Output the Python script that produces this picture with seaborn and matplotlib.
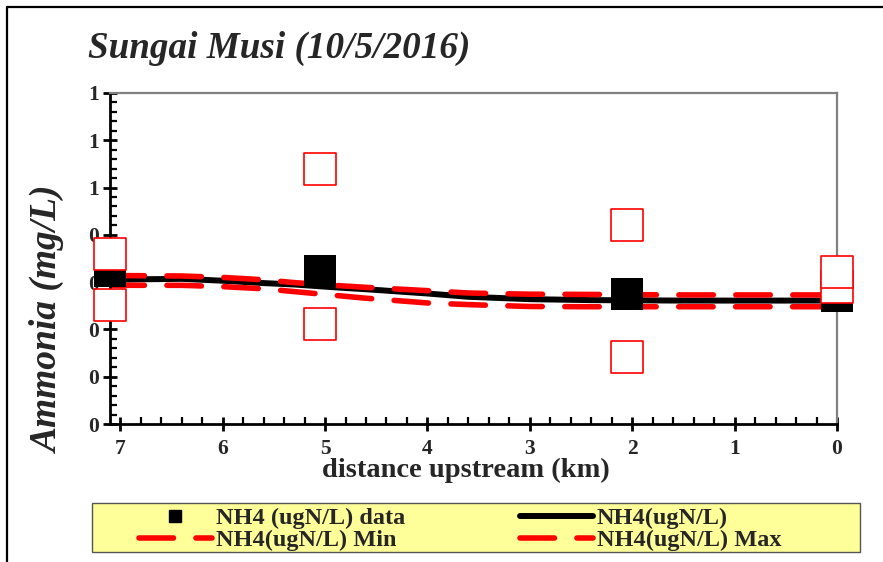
import matplotlib
matplotlib.use("Agg")
import matplotlib.pyplot as plt
from matplotlib.lines import Line2D
from matplotlib.patches import Rectangle
from matplotlib.ticker import MultipleLocator, FixedLocator, FixedFormatter
import seaborn as sns

# Sampling stations (km upstream) and measured ammonia (mg/L)
station_km = [7.1, 5.05, 2.05, 0.0]
nh4_data = [0.323, 0.324, 0.275, 0.270]
nh4_data_min = [0.252, 0.211, 0.141, 0.290]
nh4_data_max = [0.360, 0.539, 0.420, 0.321]

# Modelled profile along the river (km upstream)
model_km = [7.1, 6.8, 6.4, 6.0, 5.6, 5.3, 4.9, 4.6, 4.0, 3.6, 3.0, 2.4, 1.5, 0.0]
nh4_model = [0.305, 0.306, 0.307, 0.303, 0.298, 0.295, 0.289, 0.285, 0.276,
             0.269, 0.264, 0.262, 0.261, 0.261]
nh4_model_max = [0.314, 0.3136, 0.313, 0.310, 0.305, 0.299, 0.293, 0.289, 0.282,
                 0.277, 0.2745, 0.274, 0.273, 0.273]
nh4_model_min = [0.2935, 0.2933, 0.2933, 0.2905, 0.286, 0.280, 0.272, 0.266, 0.256,
                 0.2525, 0.2485, 0.248, 0.248, 0.248]

# Axis ticks
x_ticks = [7, 6, 5, 4, 3, 2, 1, 0]
y_ticks = [0.0, 0.1, 0.2, 0.3, 0.4, 0.5, 0.6, 0.7]
y_tick_labels = ["0", "0", "0", "0", "0", "1", "1", "1"]

sns.set_style("white")
plt.rcParams["font.family"] = ["Liberation Serif", "DejaVu Serif"]
plt.rcParams["font.weight"] = "bold"

W, H = 883, 562
fig = plt.figure(figsize=(W / 100, H / 100), dpi=100)
ax = fig.add_axes([110 / W, 1 - 424 / H, (837 - 110) / W, (424 - 93) / H])

# Model curves
sns.lineplot(x=model_km, y=nh4_model, ax=ax, color="black", linewidth=4.3,
             sort=False, estimator=None, zorder=2)
ax.lines[-1].set_solid_capstyle("round")
for series in (nh4_model_min, nh4_model_max):
    sns.lineplot(x=model_km, y=series, ax=ax, color="red", linewidth=4.0,
                 sort=False, estimator=None, zorder=2.5)
    ln = ax.lines[-1]
    ln.set_dashes((6.2, 4.05))
    ln.set_dash_capstyle("round")

# Measured values and their ranges
sns.scatterplot(x=station_km, y=nh4_data, ax=ax, marker="s", s=560,
                color="black", edgecolor="black", linewidth=0, zorder=3,
                clip_on=False)
sns.scatterplot(x=station_km, y=nh4_data_min, ax=ax, marker="s", s=530,
                color="white", edgecolor="red", linewidth=1.2, zorder=4,
                clip_on=False)
sns.scatterplot(x=station_km, y=nh4_data_max, ax=ax, marker="s", s=530,
                color="white", edgecolor="red", linewidth=1.2, zorder=5,
                clip_on=False)

ax.set_xlim(7.1, 0)
ax.set_ylim(0, 0.7)
ax.xaxis.set_major_locator(FixedLocator(x_ticks))
ax.xaxis.set_minor_locator(MultipleLocator(0.2))
ax.yaxis.set_major_locator(FixedLocator(y_ticks))
ax.yaxis.set_major_formatter(FixedFormatter(y_tick_labels))
ax.yaxis.set_minor_locator(MultipleLocator(0.02))

ax.tick_params(which="major", direction="inout", length=10, width=2,
               color="black", labelsize=15.5, pad=3)
ax.tick_params(axis="x", which="major", pad=6)
ax.tick_params(which="minor", direction="in", length=5, width=1.6,
               color="black")
ax.tick_params(axis="x", which="both", bottom=True, top=False)
ax.tick_params(axis="y", which="both", left=True, right=False)
for lab in ax.get_xticklabels() + ax.get_yticklabels():
    lab.set_fontweight("bold")

for side in ("left", "bottom"):
    ax.spines[side].set_color("black")
    ax.spines[side].set_linewidth(2)
for side in ("top", "right"):
    ax.spines[side].set_color("#808080")
    ax.spines[side].set_linewidth(1.6)
ax.set_xlabel("")
ax.set_ylabel("")

# Titles and axis labels
fig.text(88 / W, 1 - 48 / H, "Sungai Musi (10/5/2016)", fontsize=26.7,
         fontweight="bold", fontstyle="italic", ha="left", va="center")
fig.text(48 / W, 1 - 319 / H, "Ammonia (mg/L)", fontsize=27,
         fontweight="bold", fontstyle="italic", rotation=90,
         ha="center", va="center")
fig.text(466 / W, 1 - 470 / H, "distance upstream (km)", fontsize=20.5,
         fontweight="bold", ha="center", va="center")

# Outer frame
fig.add_artist(Line2D([7 / W, 1], [1 - 7 / H, 1 - 7 / H], color="black", lw=1.6))
fig.add_artist(Line2D([7 / W, 7 / W], [1 - 7 / H, 0], color="black", lw=1.6))

# Legend box
fig.add_artist(Rectangle((92 / W, 1 - 552 / H), (860 - 92) / W, (552 - 503) / H,
                         facecolor="#FFFF99", edgecolor="#555555", lw=1.0,
                         transform=fig.transFigure, zorder=0))

h_data = Line2D([], [], marker="s", color="black", markersize=8, linestyle="none")
h_model = Line2D([], [], color="black", lw=4.3, solid_capstyle="round")
h_min = Line2D([], [], color="red", lw=4.0, dashes=(6.2, 4.05),
               dash_capstyle="round")
h_max = Line2D([], [], color="red", lw=4.0, dashes=(6.2, 4.05),
               dash_capstyle="round")
leg = fig.legend([h_data, h_min, h_model, h_max],
                 ["NH4 (ugN/L) data", "NH4(ugN/L) Min", "NH4(ugN/L)",
                  "NH4(ugN/L) Max"],
                 ncol=2, loc="upper left",
                 bbox_to_anchor=(139 / W, 1 - 507 / H),
                 frameon=False, borderpad=0, borderaxespad=0,
                 handlelength=3.0, handletextpad=0.15, columnspacing=4.75,
                 labelspacing=0.0, prop={"size": 17.5, "weight": "bold"})

fig.savefig("out.png", dpi=100, facecolor="white")
